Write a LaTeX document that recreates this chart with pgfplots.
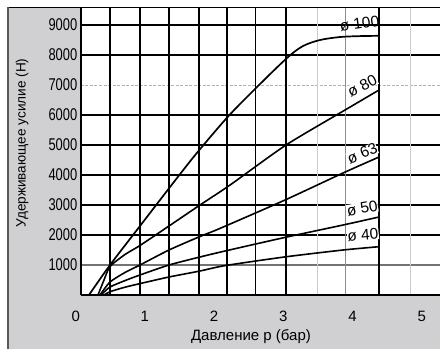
\documentclass[border=0pt]{standalone}
\usepackage{fontspec}
\setmainfont{Liberation Sans}
\newfontfamily\narrowfont{Liberation Sans}[FakeStretch=0.76]
\usepackage{pgfplots}
\pgfplotsset{compat=1.18}
\definecolor{panel}{RGB}{208,207,209}
\begin{document}
\begin{tikzpicture}
\path[use as bounding box] (0,0) rectangle (440pt,349pt);
\fill[white] (0,0) rectangle (440pt,349pt);
\fill[panel] (7pt,0) rectangle (440pt,342pt);
\draw[black, line width=0.8pt] (7pt,342pt) -- (440pt,342pt);
\draw[black!65, line width=1.6pt] (7.8pt,0) -- (7.8pt,342.4pt);
\begin{axis}[
 at={(81pt,54pt)}, anchor=south west, scale only axis,
 width=359pt, height=287pt,
 xmin=0.0766, xmax=5.264, ymin=0, ymax=9567,
 axis background/.style={fill=white},
 axis line style={draw=none},
 xtick=\empty,
 ytick={1000,2000,...,9000},
 yticklabels={1000,2000,3000,4000,5000,6000,7000,8000,9000},
 yticklabel style={font=\narrowfont\fontsize{17}{17}\selectfont, anchor=east, inner sep=0pt, xshift=-3.5pt},
 major tick length=0pt,
 clip=false,
]
% horizontal grid
\pgfplotsinvokeforeach{2000,3000,4000,5000,6000,8000,9000}{
  \draw[black, line width=1.2pt] (axis cs:0.0766,#1) -- (axis cs:5.264,#1);
}
\draw[black!30, line width=0.9pt, dash pattern=on 3pt off 1.5pt] (axis cs:0.0766,7000) -- (axis cs:5.264,7000);
\draw[black!55, line width=1.8pt] (axis cs:0.0766,1000) -- (axis cs:5.264,1000);
% vertical grid
\pgfplotsinvokeforeach{0.496,0.929,1.348,1.782,2.186,2.6,3.039,4.383}{
  \draw[black, line width=1.2pt] (axis cs:#1,0) -- (axis cs:#1,9567);
}
\draw[black!20, line width=0.9pt] (axis cs:3.487,0) -- (axis cs:3.487,9567);
\draw[black!20, line width=0.9pt] (axis cs:4.831,0) -- (axis cs:4.831,9567);
\draw[black!45, line width=1pt] (axis cs:3.892,0) -- (axis cs:3.892,9567);
% curves
\addplot[black, line width=1.7pt, smooth, tension=0.5] coordinates {
 (0.192,0) (0.496,1000) (0.929,2300) (1.464,3900) (1.767,4780) (2.202,5950)
 (2.605,6900) (3.053,7900) (3.285,8300) (3.530,8500) (3.819,8600)
 (4.108,8630) (4.383,8640)};
\addplot[black, line width=1.6pt, smooth, tension=0.4] coordinates {
 (0.322,0) (0.409,500) (0.496,950) (0.712,1350) (0.929,1650) (1.348,2300)
 (1.796,3000) (2.231,3667) (3.039,5000) (3.892,6167) (4.383,6833)};
\addplot[black, line width=1.6pt, smooth, tension=0.4] coordinates {
 (0.351,0) (0.496,433) (0.712,750) (0.929,1000) (1.348,1500) (1.796,1950)
 (2.085,2220) (3.025,3167) (3.863,4067) (4.383,4600)};
\addplot[black, line width=1.6pt, smooth, tension=0.4] coordinates {
 (0.366,0) (0.496,267) (0.712,480) (0.929,667) (1.348,1000) (1.796,1267)
 (2.158,1467) (3.025,1920) (3.863,2333) (4.383,2600)};
\addplot[black, line width=1.6pt, smooth, tension=0.4] coordinates {
 (0.409,0) (0.496,110) (0.712,260) (0.929,380) (1.348,600) (1.796,800)
 (2.158,980) (3.025,1270) (3.863,1500) (4.383,1610)};
% curve labels
\node[rotate=8, font=\fontsize{15.5}{15.5}\selectfont, inner sep=0.5pt] at (axis cs:4.1,9050) {ø 100};
\node[rotate=27, font=\fontsize{15.5}{15.5}\selectfont, fill=white, inner sep=0.3pt] at (axis cs:4.14,6980) {ø 80};
\node[rotate=22, font=\fontsize{15.5}{15.5}\selectfont, fill=white, inner sep=0.3pt] at (axis cs:4.14,4720) {ø 63};
\node[rotate=10, font=\fontsize{15.5}{15.5}\selectfont, fill=white, inner sep=0.3pt] at (axis cs:4.14,2890) {ø 50};
\node[rotate=5, font=\fontsize{15.5}{15.5}\selectfont, fill=white, inner sep=0.3pt] at (axis cs:4.15,2010) {ø 40};
% x tick labels
\pgfplotsinvokeforeach{0,1,2,3,4,5}{
  \node[anchor=base, font=\fontsize{15}{15}\selectfont, yshift=-26pt] at (axis cs:#1,0) {#1};
}
% axis lines
\draw[black, line width=1.2pt] (rel axis cs:0,0) -- (rel axis cs:1,0);
\draw[black, line width=1.2pt] (rel axis cs:0,0) -- (rel axis cs:0,1);
\end{axis}
\node[rotate=90, font=\fontsize{13.6}{13.6}\selectfont] at (22pt,206pt) {Удерживающее усилие (Н)};
\node[anchor=base, font=\fontsize{15}{15}\selectfont] at (251pt,9pt) {Давление р (бар)};
\end{tikzpicture}
\end{document}
